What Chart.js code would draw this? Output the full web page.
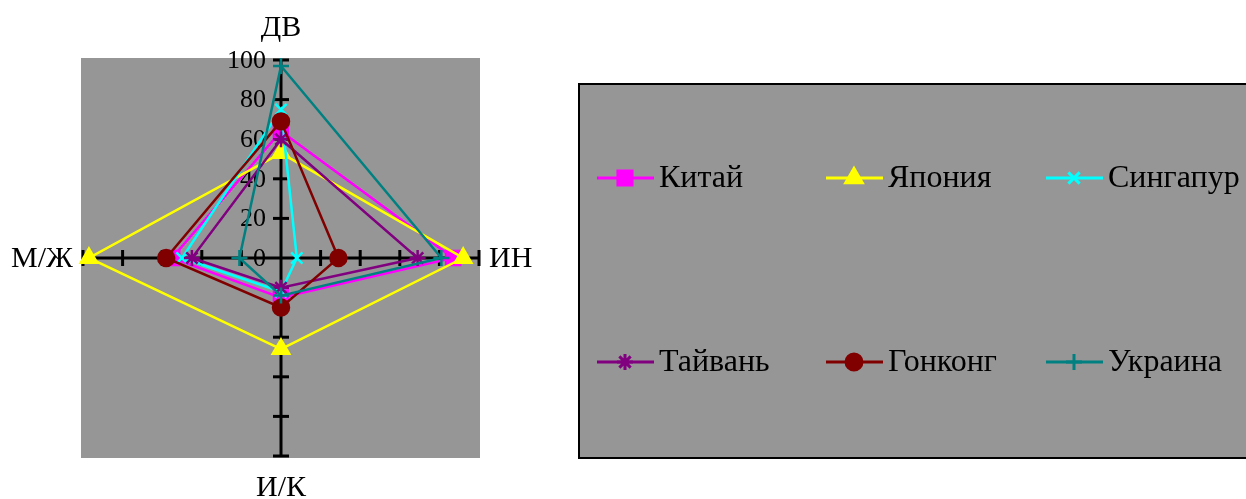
<!DOCTYPE html>
<html>
<head>
<meta charset="utf-8">
<script src="https://cdn.jsdelivr.net/npm/chart.js@4/dist/chart.umd.min.js"></script>
<style>
  html, body { margin: 0; padding: 0; background: #fff; }
  #wrap { width: 1246px; height: 499px; }
</style>
</head>
<body>
<div id="wrap"><canvas id="chartCanvas" width="1246" height="499"></canvas></div>
<script>
// оси диаграммы
const axisLabels = ['ДВ', 'ИН', 'И/К', 'М/Ж'];
const tickValues = [0, 20, 40, 60, 80, 100];

// значения по странам
const china = [64, 87, 20, 55];
const japan = [53, 92, 46, 97];
const singapore = [75, 8, 17, 50];
const taiwan = [60, 69, 15, 45];
const hongkong = [69, 29, 25, 58];
const ukraine = [97, 81, 19, 21];

const seriesNames = ['Китай', 'Япония', 'Сингапур', 'Тайвань', 'Гонконг', 'Украина'];
const seriesData = [china, japan, singapore, taiwan, hongkong, ukraine];
const seriesColors = ['#ff00ff', '#ffff00', '#00ffff', '#800080', '#800000', '#008080'];
const seriesMarkers = ['rect', 'triangle', 'crossRot', 'star', 'circle', 'cross'];
const markerSizes = [10, 9.5, 8, 8, 8, 8];

const serif = "'Liberation Serif', 'Times New Roman', serif";

// фон, оси с делениями и подписи
const axesPlugin = {
    id: 'axesPlugin',
    beforeDraw(chart) {
        const s = chart.scales.r;
        const ctx = chart.ctx;
        const R = s.drawingArea;
        ctx.save();
        ctx.fillStyle = '#969696';
        ctx.fillRect(s.xCenter - R - 2, s.yCenter - R - 2, 2 * R + 3, 2 * R + 4);
        // рамка легенды
        ctx.fillRect(579, 84, 700, 374);
        ctx.strokeStyle = '#000';
        ctx.lineWidth = 2;
        ctx.strokeRect(579, 84, 700, 374);
        ctx.restore();
    },
    beforeDatasetsDraw(chart) {
        const s = chart.scales.r;
        const ctx = chart.ctx;
        const R = s.drawingArea;
        ctx.save();
        ctx.strokeStyle = '#000';
        ctx.lineWidth = 3;
        // деления на осях
        for (let i = 0; i < axisLabels.length; i++) {
            const ang = s.getIndexAngle(i);
            const px = Math.cos(ang) * 8, py = Math.sin(ang) * 8;
            tickValues.forEach(v => {
                if (v === 0) return;
                const p = s.getPointPositionForValue(i, v);
                ctx.beginPath();
                ctx.moveTo(p.x - px, p.y - py);
                ctx.lineTo(p.x + px, p.y + py);
                ctx.stroke();
            });
        }
        // подписи значений на верхней оси
        ctx.fillStyle = '#000';
        ctx.font = '26px ' + serif;
        ctx.textAlign = 'right';
        ctx.textBaseline = 'middle';
        tickValues.forEach(v => {
            const p = s.getPointPositionForValue(0, v);
            ctx.fillText(String(v), p.x - 15, p.y + 1);
        });
        // названия осей
        ctx.font = '30px ' + serif;
        const offs = [33, 10, 31, 10];
        const aligns = ['center', 'left', 'center', 'right'];
        axisLabels.forEach((lab, i) => {
            const p = s.getPointPosition(i, R + offs[i]);
            ctx.textAlign = aligns[i];
            ctx.fillText(lab, p.x, p.y + 1);
        });
        ctx.restore();
    },
    afterDraw(chart) {
        // легенда
        const ctx = chart.ctx;
        const cols = [597, 826, 1046];
        const rows = [178, 362];
        ctx.save();
        chart.data.datasets.forEach((ds, i) => {
            const x = cols[i % 3];
            const y = rows[Math.floor(i / 3)];
            ctx.strokeStyle = ds.borderColor;
            ctx.lineWidth = 3;
            ctx.beginPath();
            ctx.moveTo(x, y);
            ctx.lineTo(x + 57, y);
            ctx.stroke();
            ctx.fillStyle = ds.pointBackgroundColor;
            ctx.strokeStyle = ds.pointBorderColor;
            Chart.helpers.drawPoint(ctx, {
                pointStyle: ds.pointStyle,
                radius: ds.pointRadius,
                borderWidth: ds.pointBorderWidth,
                rotation: 0
            }, x + 28, y);
            ctx.fillStyle = '#000';
            ctx.font = '32px ' + serif;
            ctx.textAlign = 'left';
            ctx.textBaseline = 'middle';
            ctx.fillText(ds.label, x + 62, y + 1);
        });
        ctx.restore();
    }
};

const ctx = document.getElementById('chartCanvas').getContext('2d');
const chart = new Chart(ctx, {
    type: 'radar',
    data: {
        labels: axisLabels,
        datasets: seriesNames.map((name, i) => ({
            label: name,
            data: seriesData[i],
            borderColor: seriesColors[i],
            backgroundColor: seriesColors[i],
            pointBackgroundColor: seriesColors[i],
            pointBorderColor: seriesColors[i],
            pointStyle: seriesMarkers[i],
            pointRadius: markerSizes[i],
            pointBorderWidth: 2.5,
            borderWidth: 2.5,
            fill: false,
            tension: 0,
            order: seriesNames.length - i
        }))
    },
    options: {
        responsive: false,
        animation: false,
        devicePixelRatio: 1,
        layout: {
            padding: { left: 83, top: 60, right: 767, bottom: 43 }
        },
        plugins: {
            legend: { display: false },
            tooltip: { enabled: false }
        },
        scales: {
            r: {
                min: 0,
                max: 100,
                startAngle: 0,
                ticks: { display: false, stepSize: 20 },
                grid: { display: false },
                pointLabels: { display: false },
                angleLines: { display: true, color: '#000', lineWidth: 3 }
            }
        }
    },
    plugins: [axesPlugin]
});
</script>
</body>
</html>
